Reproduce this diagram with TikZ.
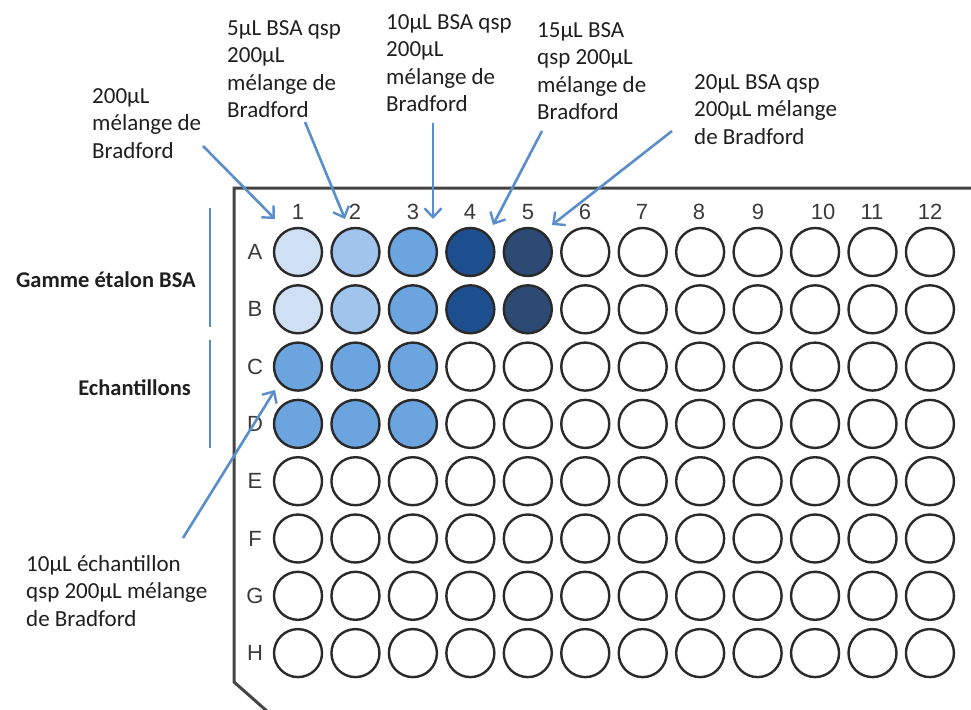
\documentclass[tikz,border=0pt]{standalone}
\usepackage{fontspec}
\setmainfont{Carlito}
\newfontfamily\arialf{Liberation Sans}
\usetikzlibrary{arrows.meta}
\definecolor{arrowblue}{HTML}{5A8ECA}
\definecolor{wellline}{HTML}{2A2A2A}
\definecolor{plateline}{HTML}{444444}
\definecolor{labgray}{HTML}{3A3A3A}
\definecolor{wc1}{HTML}{CFE0F5}
\definecolor{wc2}{HTML}{A0C4EC}
\definecolor{wc3}{HTML}{6CA4DF}
\definecolor{wc4}{HTML}{1D4F8F}
\definecolor{wc5}{HTML}{2C4A74}
\newcommand\setwell[2]{\expandafter\def\csname wellfill#1\endcsname{#2}}
\setwell{A1}{wc1}\setwell{B1}{wc1}
\setwell{A2}{wc2}\setwell{B2}{wc2}
\setwell{A3}{wc3}\setwell{B3}{wc3}
\setwell{A4}{wc4}\setwell{B4}{wc4}
\setwell{A5}{wc5}\setwell{B5}{wc5}
\setwell{C1}{wc3}\setwell{C2}{wc3}\setwell{C3}{wc3}
\setwell{D1}{wc3}\setwell{D2}{wc3}\setwell{D3}{wc3}
\tikzset{
  well/.style={circle, draw=wellline, line width=2.4pt, minimum size=48pt, inner sep=0pt},
  plate/.style={draw=plateline, line width=3pt},
  arr/.style={draw=arrowblue, line width=2.6pt, -{Straight Barb[length=9pt,width=17pt,line width=2.4pt]}},
  bracketline/.style={draw=arrowblue, line width=2.2pt},
  lbl/.style={anchor=north west, inner sep=0pt, align=left, font=\fontsize{23}{27.5}\selectfont, text=black!88},
  boldlbl/.style={anchor=east, inner sep=0pt, font=\fontsize{22.5}{27}\selectfont\bfseries, text=black!88},
  gridlbl/.style={inner sep=0pt, font=\arialf\fontsize{22}{25}\selectfont, text=labgray}
}
\begin{document}
\begin{tikzpicture}[x=1pt,y=-1pt]
\useasboundingbox (0,0) rectangle (971,709);
% plate outline
\draw[plate] (975,188) -- (234,188) -- (234,682) -- (268,712);
% column labels
\foreach \cc/\xx in {1/298,2/355,3/413,4/470,5/528,6/585,7/642,8/699,9/758,10/823,11/872,12/930}{
  \node[gridlbl] (col\cc) at (\xx,212) {\cc};
}
% wells and row labels
\foreach \rr [count=\ii] in {A,B,C,D,E,F,G,H}{
  \node[gridlbl] (row\rr) at (255,{252+(\ii-1)*57.3}) {\rr};
  \foreach \cc [count=\jj] in {1,...,12}{
    \ifcsname wellfill\rr\cc\endcsname
      \edef\wf{\csname wellfill\rr\cc\endcsname}%
    \else
      \def\wf{white}%
    \fi
    \node[well, fill=\wf] (w\rr\cc) at ({298+(\jj-1)*57.45},{252+(\ii-1)*57.3}) {};
  }
}
% labels
\node[lbl] (t1) at (92,88) {200µL\\mélange de\\Bradford};
\node[lbl] (t2) at (227,20) {5µL BSA qsp\\200µL\\mélange de\\Bradford};
\node[lbl] (t3) at (386,14) {10µL BSA qsp\\200µL\\mélange de\\Bradford};
\node[lbl] (t4) at (537,22) {15µL BSA\\qsp 200µL\\mélange de\\Bradford};
\node[lbl] (t5) at (694,74) {20µL BSA qsp\\200µL mélange\\de Bradford};
\node[lbl] (t6) at (26,555) {10µL échantillon\\qsp 200µL mélange\\de Bradford};
\node[boldlbl] (gamme) at (196,280) {Gamme étalon BSA};
\node[boldlbl] (ech) at (191,388) {Echantillons};
% arrow coordinates
\coordinate (a1s) at (203,146); \coordinate (a1e) at (275,219);
\coordinate (a2s) at (305,122); \coordinate (a2e) at (345,219);
\coordinate (a3s) at (433,123); \coordinate (a3e) at (433,219);
\coordinate (a4s) at (542,131); \coordinate (a4e) at (493,225);
\coordinate (a5s) at (672,131); \coordinate (a5e) at (552,225);
\coordinate (a6s) at (183,538); \coordinate (a6e) at (275,390);
\foreach \k in {1,...,6}{ \draw[arr] (a\k s) -- (a\k e); }
% brackets
\coordinate (b1s) at (210,208); \coordinate (b1e) at (210,327);
\coordinate (b2s) at (210,340); \coordinate (b2e) at (210,448);
\draw[bracketline] (b1s) -- (b1e);
\draw[bracketline] (b2s) -- (b2e);
\end{tikzpicture}
\end{document}
